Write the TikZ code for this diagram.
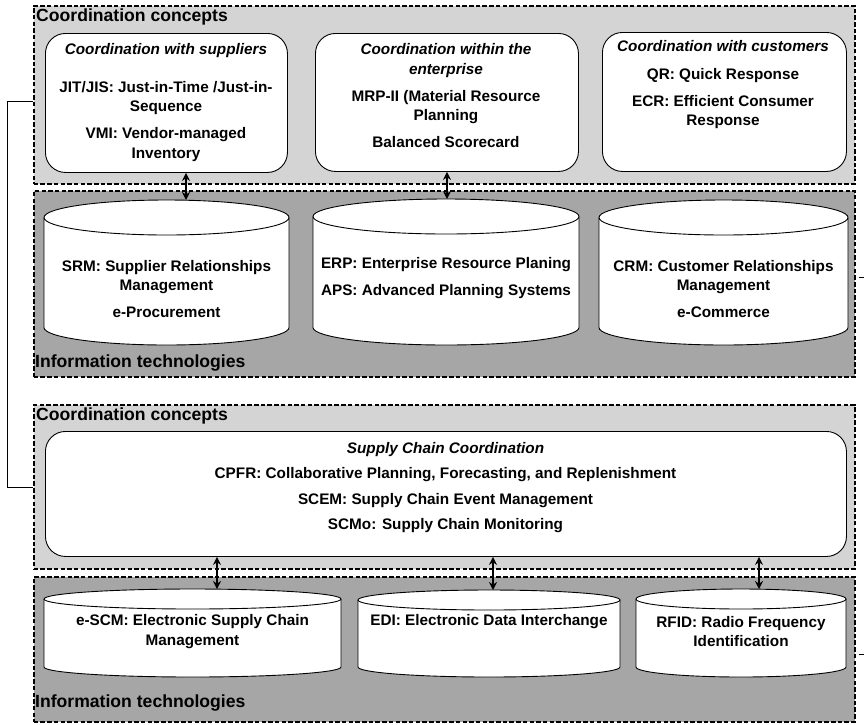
\documentclass[tikz,border=0pt]{standalone}
\usepackage{fontspec}
\setmainfont{Liberation Sans}
\usetikzlibrary{arrows.meta}
\definecolor{conceptgray}{HTML}{D4D4D4}
\definecolor{techgray}{HTML}{A6A6A6}

% cylinder (database) drawn from left x, right x, top-cap centre y, bottom-cap centre y, cap radius
\newcommand\drumshape[5]{%
  \pgfmathsetmacro\drumrx{(#2-#1)/2}%
  \fill[white] (#1,#3) -- (#1,#4) arc[start angle=180,end angle=360,x radius=\drumrx pt,y radius=#5pt]
     -- (#2,#3) arc[start angle=0,end angle=180,x radius=\drumrx pt,y radius=#5pt] -- cycle;
  \draw[drumline] (#1,#3) -- (#1,#4) arc[start angle=180,end angle=360,x radius=\drumrx pt,y radius=#5pt]
     -- (#2,#3);
  \draw[drumline] ({(#1+#2)/2},#3) ellipse[x radius=\drumrx pt,y radius=#5pt];
}

\tikzset{
  groupbox/.style={draw, dash pattern=on 4.5pt off 2.2pt, line width=1.5pt,
    anchor=north west, inner sep=0pt},
  concept/.style={groupbox, fill=conceptgray},
  tech/.style={groupbox, fill=techgray},
  grouplabel/.style={anchor=west, inner sep=0pt, font=\fontsize{17.6}{20}\selectfont\bfseries},
  roundbox/.style={draw, fill=white, rounded corners=20pt, line width=0.9pt,
    anchor=north west, inner sep=0pt},
  body/.style={align=center, inner sep=0pt, font=\fontsize{15.3}{19.5}\selectfont\bfseries},
  drumline/.style={line width=0.9pt},
  link/.style={line width=1.8pt, {Stealth[length=8pt,width=8pt]}-{Stealth[length=8pt,width=8pt]}},
  side/.style={line width=0.8pt},
}

\begin{document}
\begin{tikzpicture}[x=1pt,y=-1pt]
\useasboundingbox (0,0) rectangle (864,724);

% ---------- upper layer ----------
\node[concept, minimum width=821pt, minimum height=178pt] (cc1) at (33,5) {};
\node[grouplabel] (cc1lab) at (36,17) {Coordination concepts};
\node[tech, minimum width=821pt, minimum height=186pt] (it1) at (33,190) {};
\node[grouplabel] (it1lab) at (35,363) {Information technologies};

\node[roundbox, minimum width=242pt, minimum height=139pt] (sup) at (45,33) {};
\node[roundbox, minimum width=263pt, minimum height=138pt] (ent) at (315,33) {};
\node[roundbox, minimum width=244pt, minimum height=139pt] (cus) at (602,32) {};

\node[body] (suptext) at (166,102.5) {\textit{Coordination with suppliers}\\[18pt]
  JIT/JIS: Just-in-Time /Just-in-\\Sequence\\[7.5pt]VMI: Vendor-managed\\Inventory};
\node[body] (enttext) at (446,96) {\textit{Coordination within the}\\\textit{enterprise}\\[7.5pt]
  MRP-II (Material Resource\\Planning\\[7.5pt]Balanced Scorecard};
\node[body] (custext) at (723,85) {\textit{Coordination with customers}\\[8pt]
  QR: Quick Response\\[7.5pt]ECR: Efficient Consumer\\Response};

\drumshape{44}{289}{217.5}{327.5}{17.5}
\drumshape{313}{579}{216.5}{327.5}{17.5}
\drumshape{599}{848}{217.5}{327.5}{17.5}
\coordinate (srmtop) at (186,200);
\coordinate (erptop) at (447,199);
\node[body] (srm) at (166.5,289) {SRM: Supplier Relationships\\Management\\[7.5pt]e-Procurement};
\node[body] (erp) at (446,278.5) {ERP: Enterprise Resource Planing\\[7.5pt]APS: Advanced Planning Systems};
\node[body] (crm) at (723.5,289) {CRM: Customer Relationships\\Management\\[7.5pt]e-Commerce};

\draw[link] (sup.south -| srmtop) -- (srmtop);
\draw[link] (ent.south -| erptop) -- (erptop);

% ---------- lower layer ----------
\node[concept, minimum width=821pt, minimum height=164pt] (cc2) at (33,404) {};
\node[grouplabel] (cc2lab) at (36,416) {Coordination concepts};
\node[tech, minimum width=821pt, minimum height=145pt] (it2) at (33,576) {};
\node[grouplabel] (it2lab) at (35,703) {Information technologies};

\node[roundbox, minimum width=801pt, minimum height=125pt] (scc) at (45,431) {};
\node[body] (scctext) at (445.5,487.5)
  {\textit{Supply Chain Coordination}\\[6pt]
   CPFR: Collaborative Planning, Forecasting, and Replenishment\\[6pt]
   SCEM: Supply Chain Event Management\\[6pt]
   SCMo: Supply Chain Monitoring};

\drumshape{44}{341}{599}{667}{10}
\drumshape{358}{620}{600}{667}{10}
\drumshape{636}{846}{599}{667}{10}
\coordinate (escmtop) at (217,589);
\coordinate (editop) at (493,590);
\coordinate (rfidtop) at (759,589);
\node[body] (escm) at (192.5,631.5) {e-SCM: Electronic Supply Chain\\Management};
\node[body] (edi) at (489,622) {EDI: Electronic Data Interchange};
\node[body] (rfid) at (741,631.5) {RFID: Radio Frequency\\Identification};

\draw[link] (scc.south -| escmtop) -- (escmtop);
\draw[link] (scc.south -| editop) -- (editop);
\draw[link] (scc.south -| rfidtop) -- (rfidtop);

% ---------- side connectors ----------
\coordinate (leftrail) at (7,0);
\draw[side] (cc1.west |- 0,101) -- (leftrail |- 0,101) -- (leftrail |- 0,487) -- (cc2.west |- 0,487);
\coordinate (stubA) at (864,277);
\coordinate (stubB) at (864,654);
\draw[side] ([xshift=3pt]it1.east |- stubA) -- (stubA);
\draw[side] ([xshift=3pt]it2.east |- stubB) -- (stubB);
\end{tikzpicture}
\end{document}
